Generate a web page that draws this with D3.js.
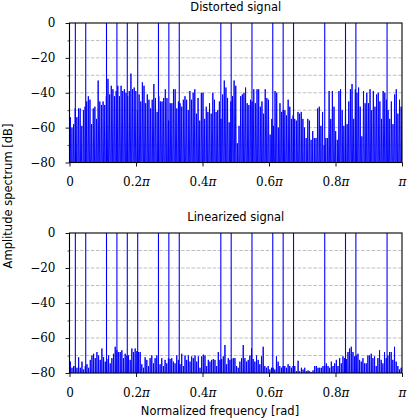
<!DOCTYPE html>
<html><head><meta charset="utf-8">
<script src="https://cdn.jsdelivr.net/npm/d3@7"></script>
<style>body{margin:0;background:#fff}</style>
</head><body>
<svg id="c" width="409" height="420"></svg>
<script>
// ---- data (frequency normalized to pi) ----
const freqTicks = [0, 0.2, 0.4, 0.6, 0.8, 1];
const freqTickLabels = ["0", "0.2π", "0.4π", "0.6π", "0.8π", "π"];
const dbTicks = [-80, -60, -40, -20, 0];
const dbTickLabels = ["−80", "−60", "−40", "−20", "0"];
const dbMinorTicks = [-70, -50, -30, -10];
const dbGrid = [-70, -60, -50, -40, -30, -20, -10];
const panelTitles = ["Distorted signal", "Linearized signal"];
const xLabel = "Normalized frequency [rad]";
const yLabel = "Amplitude spectrum [dB]";
// tone frequencies (x pi rad), peaks at 0 dB
const toneFreqs = [0.0176, 0.0488, 0.1113, 0.1426, 0.1738, 0.2051, 0.2676, 0.2988, 0.3301,
  0.4551, 0.4863, 0.5488, 0.6113, 0.6426, 0.6738, 0.7676, 0.8301, 0.8613, 0.9551];
// noise peak levels (dB), evenly spaced over 0..pi
const distortedNoiseDb = [
  -54,-60,-58,-49,-54,-49,-49,-59,-50,-48,-45,-42,-44,-58,-49,-48,-55,-33,-45,-47,-45,-47,-42,-32,-41,-36,-38,-42,-39,-36,-42,-36,-39,-38,-40,-42,-39,-29,-38,-37,-39,-50,
  -41,-45,-34,-36,-46,-41,-44,-49,-44,-35,-43,-51,-42,-45,-45,-43,-38,-43,-56,-46,-46,-38,-38,-49,-45,-46,-48,-44,-42,-44,-50,-39,-44,-40,-38,-52,-43,-56,-40,-40,
  -55,-48,-51,-46,-52,-40,-44,-51,-50,-45,-55,-41,-33,-37,-43,-57,-45,-42,-33,-36,-69,-59,-42,-41,-40,-37,-46,-47,-44,-45,-38,-46,-38,-38,-48,-45,-52,-38,-43,-44,
  -64,-55,-59,-39,-40,-60,-46,-51,-50,-50,-53,-44,-48,-55,-53,-55,-56,-51,-52,-51,-55,-60,-66,-55,-56,-67,-62,-66,-66,-49,-48,-59,-51,-70,-66,-66,-39,-55,-39,-48,
  -62,-67,-39,-38,-50,-59,-50,-58,-45,-38,-35,-55,-38,-40,-37,-48,-65,-39,-46,-40,-46,-38,-50,-39,-48,-41,-40,-45,-55,-39,-40,-44,-50,-55,-45,-58,-41,-38,-52,-44,-48
];
const linearizedNoiseDb = [
  -73.5,-77,-76,-76,-77,-71,-77,-73.5,-78,-76,-75,-77,-72.5,-70,-69,-71.5,-68,-70,-72.5,-66,
  -71,-73.5,-72,-70,-74.5,-71.5,-69,-65,-67,-68,-68,-67,-71.5,-69,-70,-70,-72.5,-66,-68,-66,
  -67.5,-68,-68,-75,-77,-71,-72.5,-76,-71.5,-70,-74.5,-71.5,-70,-72,-75,-71.5,-76,-72.5,-74.5,-71.5,
  -72,-71.5,-73.5,-74.5,-70,-72.5,-75,-69,
  -76,-70,-72.5,-70,-73.5,-70.5,-71.5,-70,-73.5,-70.5,-77,-70.5,-69.5,-70,-76,-72.5,-73.5,-72.5,-72,-72.5,
  -76,-68,-72.5,-72,-70.5,-64,-75,-71.5,-72.5,-72,-71.5,-71.5,-76,-77,-73.5,-71.5,-64,-71.5,-73.5,-72.5,
  -70,-66,-72,-73.5,-70,-72.5,-75,-70.5,-65,-76,-77,-76,-78,-77,-77,-78,-70.5,-73.5,-76,-77,
  -76,-76,-77,-75,-76,-77,
  -76,-76,-79,-73,-79,-77,-78,-77,-79,-78.5,-79,-79.5,-78.5,-76,-76,-77,-77,-77,-76,-76,
  -74.5,-76,-77,-73.5,-76,-74.5,-72.5,-76,-71.5,-74.5,-70.5,-71.5,-72,-68,-66,-65,-68,-70.5,-70,-69,
  -72.5,-73.5,-71.5,-74.5,-74.5,-70,-70,-69,-71.5,-70.5,-76,-71.5,-67,-72.5,-74.5,-68,-71.5,-70,-68,-68,
  -72.5,-65,-73.5,-76,-78,-77
];
const dipDb = -110; // spectrum falls below the axis between bins

// ---- drawing ----
const svg = d3.select("#c");
const x = d3.scaleLinear().domain([0, 1]).range([69.5, 402]);
const blue = "#0000ff";
const serif = "DejaVu Serif";
const sans = "DejaVu Sans";

const panels = [
  {title: panelTitles[0], noise: distortedNoiseDb, top: 23, bottom: 162.5, titleY: 11},
  {title: panelTitles[1], noise: linearizedNoiseDb, top: 233, bottom: 373, titleY: 221}
];

const defs = svg.append("defs");

panels.forEach((p, k) => {
  const y = d3.scaleLinear().domain([-80, 0]).range([p.bottom, p.top]);
  const g = svg.append("g");
  const clipId = "clip" + k;
  defs.append("clipPath").attr("id", clipId).append("rect")
    .attr("x", x(0)).attr("y", p.top).attr("width", x(1) - x(0)).attr("height", p.bottom - p.top);

  // grid
  g.selectAll("line.grid").data(dbGrid).join("line").attr("class", "grid")
    .attr("x1", x(0)).attr("x2", x(1)).attr("y1", d => y(d)).attr("y2", d => y(d))
    .attr("stroke", "#b0b0b0").attr("stroke-width", 0.8).attr("stroke-dasharray", "3.7,1.6");

  // noise spectrum
  const N = p.noise.length;
  const pts = [[0, dipDb]];
  p.noise.forEach((v, i) => { pts.push([(i + 0.5) / N, v]); pts.push([(i + 1) / N, dipDb]); });
  const line = d3.line().x(d => x(d[0])).y(d => y(d[1]));
  g.append("path").attr("clip-path", `url(#${clipId})`).attr("d", line(pts))
    .attr("fill", "none").attr("stroke", blue).attr("stroke-width", 0.95).attr("stroke-linejoin", "miter");

  // tones
  g.selectAll("line.tone").data(toneFreqs).join("line").attr("class", "tone")
    .attr("clip-path", `url(#${clipId})`)
    .attr("x1", d => x(d)).attr("x2", d => x(d)).attr("y1", y(-80)).attr("y2", y(0))
    .attr("stroke", blue).attr("stroke-width", 1.1);

  // frame
  g.append("rect").attr("x", x(0)).attr("y", p.top).attr("width", x(1) - x(0)).attr("height", p.bottom - p.top)
    .attr("fill", "none").attr("stroke", "#000").attr("stroke-width", 1.1);

  // y axis
  const ya = g.append("g").attr("transform", `translate(${x(0)},0)`)
    .call(d3.axisLeft(y).tickValues(dbTicks).tickFormat((d, i) => dbTickLabels[i]).tickSize(4).tickPadding(10));
  ya.select(".domain").remove();
  ya.attr("font-family", serif).attr("font-size", 12);
  ya.selectAll(".tick line").attr("stroke-width", 0.9);
  const ym = g.append("g").attr("transform", `translate(${x(0)},0)`)
    .call(d3.axisLeft(y).tickValues(dbMinorTicks).tickFormat("").tickSize(2));
  ym.select(".domain").remove();
  ym.selectAll(".tick line").attr("stroke-width", 0.7);

  // x axis
  const xa = g.append("g").attr("transform", `translate(0,${p.bottom})`)
    .call(d3.axisBottom(x).tickValues(freqTicks).tickFormat("").tickSize(4).tickPadding(11));
  xa.select(".domain").remove();
  xa.attr("font-family", serif).attr("font-size", 12);
  xa.selectAll(".tick line").attr("stroke-width", 0.9);
  xa.selectAll(".tick text").each(function(d, i) {
    const t = d3.select(this).text(null);
    const lab = freqTickLabels[i];
    if (lab.endsWith("π")) {
      const num = lab.slice(0, -1);
      if (num) t.append("tspan").text(num);
      t.append("tspan").attr("font-style", "italic").text("π");
    } else {
      t.text(lab);
    }
  });

  // title
  svg.append("text").attr("x", (x(0) + x(1)) / 2).attr("y", p.titleY)
    .attr("text-anchor", "middle").attr("font-family", sans).attr("font-size", 11.5)
    .text(p.title);
});

// axis labels
svg.append("text").attr("x", 220).attr("y", 415).attr("text-anchor", "middle")
  .attr("font-family", sans).attr("font-size", 11.5).text(xLabel);
svg.append("text").attr("transform", "translate(12,196) rotate(-90)").attr("text-anchor", "middle")
  .attr("font-family", sans).attr("font-size", 11.5).text(yLabel);
</script>
</body></html>
